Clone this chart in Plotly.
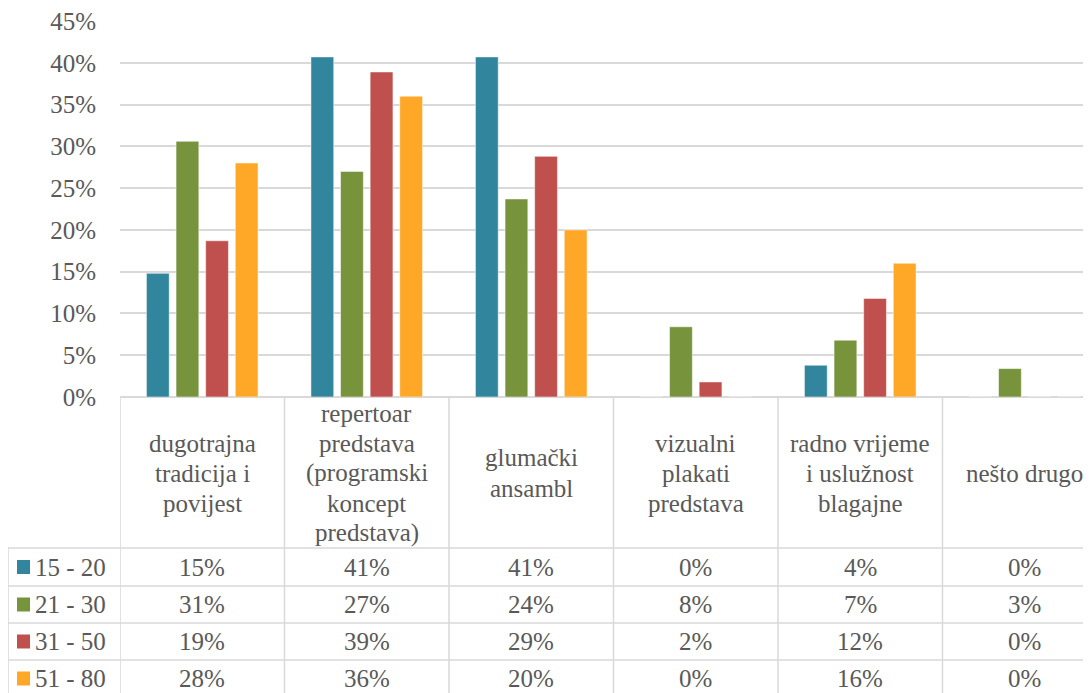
import plotly.graph_objects as go

categories = [
    "dugotrajna<br>tradicija i<br>povijest",
    "repertoar<br>predstava<br>(programski<br>koncept<br>predstava)",
    "glumački<br>ansambl",
    "vizualni<br>plakati<br>predstava",
    "radno vrijeme<br>i uslužnost<br>blagajne",
    "nešto drugo",
]
series_names = ["15 - 20", "21 - 30", "31 - 50", "51 - 80"]
v_15_20 = [0.148, 0.407, 0.407, 0.0, 0.038, 0.0]
v_21_30 = [0.306, 0.270, 0.237, 0.084, 0.068, 0.034]
v_31_50 = [0.187, 0.389, 0.288, 0.018, 0.118, 0.0]
v_51_80 = [0.280, 0.360, 0.200, 0.0, 0.160, 0.0]
series_values = [v_15_20, v_21_30, v_31_50, v_51_80]
colors = ["#31859C", "#77933C", "#C0504D", "#FFA726"]
tick_vals = [i * 0.05 for i in range(10)]

OFF = 8  # page body margin
W, H = 1091 - OFF, 693 - OFF
L, T, B_PX = 120, 21, 397      # screen pixel positions of plot area
R_PX = 1091
TXT = "#595959"
GRID = "#D9D9D9"
FONT = "Liberation Serif"
FS = 25
LINE_H = 30

xs = list(range(len(categories)))
fig = go.Figure()
for name, vals, col in zip(series_names, series_values, colors):
    fig.add_trace(go.Bar(x=xs, y=vals, name=name, marker_color=col,
                         marker_line=dict(color="rgba(255,255,255,0.5)", width=1)))

def py(px):
    return (B_PX - px) / (B_PX - T)

def pxx(px):
    return (px - L) / (R_PX - L)

shapes = []
ann = []
row_lines = [548, 586, 623, 660, 697]
for k in range(len(categories)):
    shapes.append(dict(type="line", xref="x", yref="paper", x0=k - 0.5, x1=k - 0.5,
                       y0=py(397), y1=py(700), line=dict(color=GRID, width=1.5)))
shapes.append(dict(type="line", xref="paper", yref="paper", x0=pxx(8), x1=pxx(8),
                   y0=py(548), y1=py(700), line=dict(color=GRID, width=1.5)))
for ry in row_lines:
    shapes.append(dict(type="line", xref="paper", yref="paper", x0=pxx(8), x1=1,
                       y0=py(ry), y1=py(ry), line=dict(color=GRID, width=1.5)))

for k, c in enumerate(categories):
    lines = c.split("<br>")
    n = len(lines)
    for j, ln in enumerate(lines):
        yc = 473 + (j - (n - 1) / 2) * LINE_H
        ann.append(dict(x=k, y=py(yc), xref="x", yref="paper", text=ln, showarrow=False,
                        font=dict(family=FONT, size=FS, color=TXT), align="center",
                        xanchor="center", yanchor="middle"))

for i, (name, vals, col) in enumerate(zip(series_names, series_values, colors)):
    yc = (row_lines[i] + row_lines[i + 1]) / 2
    shapes.append(dict(type="rect", xref="paper", yref="paper", x0=pxx(17), x1=pxx(30),
                       y0=py(yc - 7), y1=py(yc + 7), fillcolor=col, line=dict(width=0)))
    ann.append(dict(x=pxx(33), y=py(yc), xref="paper", yref="paper", text=name,
                    showarrow=False, font=dict(family=FONT, size=FS, color=TXT),
                    xanchor="left", yanchor="middle"))
    for k, v in enumerate(vals):
        ann.append(dict(x=k, y=py(yc), xref="x", yref="paper", text=f"{round(v*100):d}%",
                        showarrow=False, font=dict(family=FONT, size=FS, color=TXT),
                        xanchor="center", yanchor="middle"))

group_w = 164.5
fig.update_layout(
    width=W, height=H,
    margin=dict(l=L - OFF, r=0, t=T - OFF, b=H - (B_PX - OFF), pad=0),
    paper_bgcolor="white", plot_bgcolor="white",
    barmode="group", bargap=0.28, bargroupgap=0.23,
    showlegend=False,
    xaxis=dict(range=[-0.5, -0.5 + (R_PX - L) / group_w], showticklabels=False,
               showgrid=False, zeroline=False, showline=False),
    yaxis=dict(range=[0, 0.45], tickvals=tick_vals, tickformat=".0%",
               showgrid=True, gridcolor=GRID, gridwidth=1.5, zeroline=True,
               zerolinecolor=GRID, zerolinewidth=1.5, showline=False,
               ticklabelstandoff=23, ticklabeloverflow="allow",
               tickfont=dict(family=FONT, size=FS, color=TXT)),
    shapes=shapes, annotations=ann,
)
fig.write_html("out.html")
